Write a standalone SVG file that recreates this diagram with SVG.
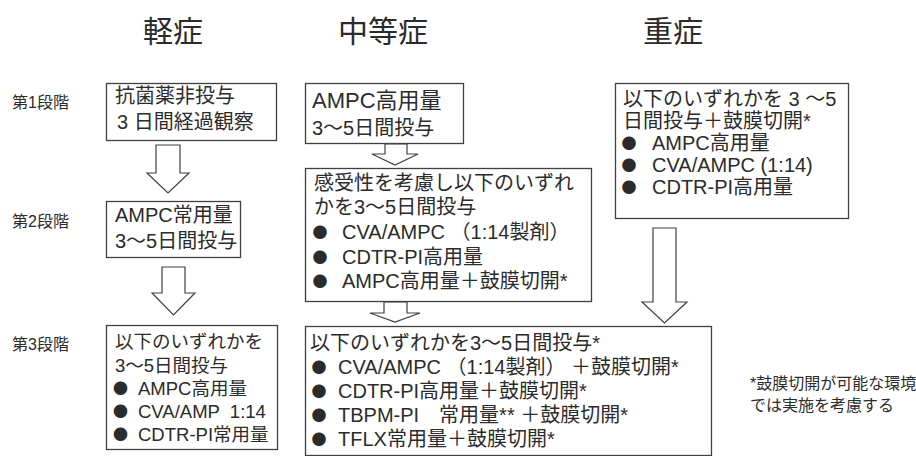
<svg xmlns="http://www.w3.org/2000/svg" width="916" height="456" viewBox="0 0 916 456">
<style>
text{font-family:"Liberation Sans","Noto Sans CJK JP",sans-serif;fill:#2b2b2b;white-space:pre}
.h{font-size:30px}
.s{font-size:16px}
.t{font-size:20px}
.m{font-size:18.5px}
.f{font-size:16px}
.b{font-family:"Noto Sans CJK JP",sans-serif;font-size:15px}
.box{fill:#fff;stroke:#404040;stroke-width:1.3}
.arr{fill:#fff;stroke:#404040;stroke-width:1.2;stroke-linejoin:miter}
</style>
<rect width="916" height="456" fill="#fff"/>
<g id="headers">
<text class="h" x="143" y="42">軽症</text>
<text class="h" x="338" y="42">中等症</text>
<text class="h" x="643" y="42">重症</text>
</g>
<g id="stages">
<text class="s" x="12" y="108">第1段階</text>
<text class="s" x="12" y="227">第2段階</text>
<text class="s" x="12" y="350">第3段階</text>
</g>
<g id="connectors">
<path class="arr" d="M156,145 H180 V173 H189 L168,193 L147,173 H156 Z"/>
<path class="arr" d="M162,267 H185 V293 H195 L173.5,315 L152,293 H162 Z"/>
<path class="arr" d="M385,144 H407 V154 H418 L395,165 L372,154 H385 Z"/>
<path class="arr" d="M384,302 H407 V313 H420 L395,322 L370,313 H384 Z"/>
<path class="arr" d="M653,228 H676 V302 H687 L664.5,323 L642,302 H653 Z"/>
</g>
<g id="mild1">
<rect class="box" x="106.5" y="83.5" width="170" height="57"/>
<text class="t" x="115" y="103">抗菌薬非投与</text>
<text class="t" x="117" y="129">3 日間経過観察</text>
</g>
<g id="mild2">
<rect class="box" x="106.5" y="201.5" width="134" height="56"/>
<text class="t" x="115" y="222">AMPC常用量</text>
<text class="t" x="115" y="248">3〜5日間投与</text>
</g>
<g id="mild3">
<rect class="box" x="106.5" y="325.5" width="171" height="124"/>
<text class="m" x="115" y="348">以下のいずれかを</text>
<text class="m" x="115" y="372">3〜5日間投与</text>
<text class="b" x="113" y="394">●</text>
<text class="m" x="138" y="395">AMPC高用量</text>
<text class="b" x="113" y="417">●</text>
<text class="m" x="138" y="418">CVA/AMP  1:14</text>
<text class="b" x="113" y="440">●</text>
<text class="m" x="138" y="441">CDTR-PI常用量</text>
</g>
<g id="mod1">
<rect class="box" x="305.5" y="83.5" width="158" height="60"/>
<text class="t" x="312" y="108" style="font-size:22px">AMPC高用量</text>
<text class="t" x="312" y="135">3〜5日間投与</text>
</g>
<g id="mod2">
<rect class="box" x="305.5" y="168.5" width="286" height="133"/>
<text class="t" x="314" y="190">感受性を考慮し以下のいずれ</text>
<text class="t" x="314" y="214">かを3〜5日間投与</text>
<text class="b" x="312.5" y="238">●</text>
<text class="t" x="342" y="239">CVA/AMPC （1:14製剤）</text>
<text class="b" x="312.5" y="263">●</text>
<text class="t" x="342" y="264">CDTR-PI高用量</text>
<text class="b" x="312.5" y="287">●</text>
<text class="t" x="342" y="288">AMPC高用量＋鼓膜切開*</text>
</g>
<g id="severe1">
<rect class="box" x="615.5" y="83.5" width="233" height="135"/>
<text class="t" x="623" y="106">以下のいずれかを 3 〜5</text>
<text class="t" x="623" y="128">日間投与＋鼓膜切開*</text>
<text class="b" x="621.5" y="149">●</text>
<text class="t" x="652" y="150">AMPC高用量</text>
<text class="b" x="621.5" y="171">●</text>
<text class="t" x="652" y="172">CVA/AMPC (1:14)</text>
<text class="b" x="621.5" y="193">●</text>
<text class="t" x="652" y="194">CDTR-PI高用量</text>
</g>
<g id="step3">
<rect class="box" x="305.5" y="326.5" width="406" height="129"/>
<text class="t" x="310" y="350">以下のいずれかを3〜5日間投与*</text>
<text class="b" x="311.5" y="373">●</text>
<text class="t" x="338" y="374">CVA/AMPC （1:14製剤） ＋鼓膜切開*</text>
<text class="b" x="311.5" y="397">●</text>
<text class="t" x="338" y="398">CDTR-PI高用量＋鼓膜切開*</text>
<text class="b" x="311.5" y="421">●</text>
<text class="t" x="338" y="422">TBPM-PI　常用量** ＋鼓膜切開*</text>
<text class="b" x="311.5" y="445">●</text>
<text class="t" x="338" y="446">TFLX常用量＋鼓膜切開*</text>
</g>
<g id="footnote">
<text class="f" x="750" y="389">*鼓膜切開が可能な環境</text>
<text class="f" x="750" y="411">では実施を考慮する</text>
</g>
</svg>
